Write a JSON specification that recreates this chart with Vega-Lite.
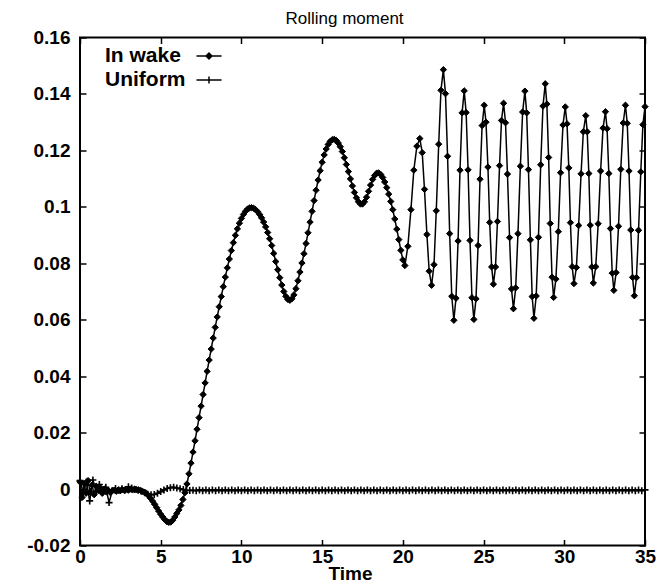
{
  "$schema": "https://vega.github.io/schema/vega-lite/v6.json",
  "width": 565,
  "height": 508,
  "autosize": {"type": "none"},
  "padding": {"left": 80, "top": 37.5, "right": 15, "bottom": 42.5},
  "background": "white",
  "config": {"view": {"stroke": "black", "strokeWidth": 2}, "font": "Liberation Sans"},
  "title": {"text": "Rolling moment", "font": "Liberation Sans", "fontSize": 17, "fontWeight": "normal", "color": "black", "anchor": "middle", "frame": "group", "offset": 1, "dx": -18},
  "data": {"values": [
    {"series":"In wake","time":0,"moment":0.0025},{"series":"In wake","time":0.125,"moment":-0.003},{"series":"In wake","time":0.25,"moment":0.002},{"series":"In wake","time":0.375,"moment":-0.0015},{"series":"In wake","time":0.5,"moment":0.003},{"series":"In wake","time":0.625,"moment":-0.001},{"series":"In wake","time":0.75,"moment":0.0015},{"series":"In wake","time":0.875,"moment":-0.002},{"series":"In wake","time":1,"moment":0.001},{"series":"In wake","time":1.125,"moment":-0.0005},{"series":"In wake","time":1.25,"moment":0.0005},{"series":"In wake","time":1.375,"moment":-0.0015},{"series":"In wake","time":1.5,"moment":0},{"series":"In wake","time":1.625,"moment":-0.001},{"series":"In wake","time":1.75,"moment":-0.0005},{"series":"In wake","time":1.875,"moment":-0.0012},
    {"series":"In wake","time":2,"moment":-0.0006},{"series":"In wake","time":2.125,"moment":-0.0004},{"series":"In wake","time":2.25,"moment":-0.0008},{"series":"In wake","time":2.375,"moment":-0.0003},{"series":"In wake","time":2.5,"moment":-0.0006},{"series":"In wake","time":2.625,"moment":-0.0002},{"series":"In wake","time":2.75,"moment":-0.0005},{"series":"In wake","time":2.875,"moment":-0.0001},{"series":"In wake","time":3,"moment":-0.0004},{"series":"In wake","time":3.125,"moment":0},{"series":"In wake","time":3.25,"moment":-0.0003},{"series":"In wake","time":3.375,"moment":0},{"series":"In wake","time":3.5,"moment":-0.0002},{"series":"In wake","time":3.625,"moment":-0.0003},{"series":"In wake","time":3.75,"moment":-0.0005},{"series":"In wake","time":3.875,"moment":-0.0008},
    {"series":"In wake","time":4,"moment":-0.0011},{"series":"In wake","time":4.125,"moment":-0.0016},{"series":"In wake","time":4.25,"moment":-0.0024},{"series":"In wake","time":4.375,"moment":-0.0033},{"series":"In wake","time":4.5,"moment":-0.0043},{"series":"In wake","time":4.625,"moment":-0.0054},{"series":"In wake","time":4.75,"moment":-0.0066},{"series":"In wake","time":4.875,"moment":-0.0078},{"series":"In wake","time":5,"moment":-0.0089},{"series":"In wake","time":5.125,"moment":-0.0099},{"series":"In wake","time":5.25,"moment":-0.0108},{"series":"In wake","time":5.375,"moment":-0.0115},{"series":"In wake","time":5.5,"moment":-0.0118},{"series":"In wake","time":5.625,"moment":-0.0117},{"series":"In wake","time":5.75,"moment":-0.011},{"series":"In wake","time":5.875,"moment":-0.0099},
    {"series":"In wake","time":6,"moment":-0.0086},{"series":"In wake","time":6.125,"moment":-0.0074},{"series":"In wake","time":6.25,"moment":-0.0058},{"series":"In wake","time":6.375,"moment":-0.0037},{"series":"In wake","time":6.5,"moment":-0.0013},{"series":"In wake","time":6.625,"moment":0.0018},{"series":"In wake","time":6.75,"moment":0.0054},{"series":"In wake","time":6.875,"moment":0.0092},{"series":"In wake","time":7,"moment":0.0131},{"series":"In wake","time":7.125,"moment":0.0171},{"series":"In wake","time":7.25,"moment":0.0212},{"series":"In wake","time":7.375,"moment":0.0253},{"series":"In wake","time":7.5,"moment":0.0294},{"series":"In wake","time":7.625,"moment":0.0335},{"series":"In wake","time":7.75,"moment":0.0376},{"series":"In wake","time":7.875,"moment":0.0417},
    {"series":"In wake","time":8,"moment":0.0457},{"series":"In wake","time":8.125,"moment":0.0496},{"series":"In wake","time":8.25,"moment":0.0535},{"series":"In wake","time":8.375,"moment":0.0573},{"series":"In wake","time":8.5,"moment":0.061},{"series":"In wake","time":8.625,"moment":0.0646},{"series":"In wake","time":8.75,"moment":0.0682},{"series":"In wake","time":8.875,"moment":0.0717},{"series":"In wake","time":9,"moment":0.0751},{"series":"In wake","time":9.125,"moment":0.0784},{"series":"In wake","time":9.25,"moment":0.0815},{"series":"In wake","time":9.375,"moment":0.0845},{"series":"In wake","time":9.5,"moment":0.0873},{"series":"In wake","time":9.625,"moment":0.0899},{"series":"In wake","time":9.75,"moment":0.0922},{"series":"In wake","time":9.875,"moment":0.0942},
    {"series":"In wake","time":10,"moment":0.0959},{"series":"In wake","time":10.125,"moment":0.0973},{"series":"In wake","time":10.25,"moment":0.0984},{"series":"In wake","time":10.375,"moment":0.0992},{"series":"In wake","time":10.5,"moment":0.0996},{"series":"In wake","time":10.625,"moment":0.0997},{"series":"In wake","time":10.75,"moment":0.0995},{"series":"In wake","time":10.875,"moment":0.099},{"series":"In wake","time":11,"moment":0.0983},{"series":"In wake","time":11.125,"moment":0.0973},{"series":"In wake","time":11.25,"moment":0.0961},{"series":"In wake","time":11.375,"moment":0.0946},{"series":"In wake","time":11.5,"moment":0.0929},{"series":"In wake","time":11.625,"moment":0.0909},{"series":"In wake","time":11.75,"moment":0.0887},{"series":"In wake","time":11.875,"moment":0.0863},
    {"series":"In wake","time":12,"moment":0.0835},{"series":"In wake","time":12.125,"moment":0.0806},{"series":"In wake","time":12.25,"moment":0.0777},{"series":"In wake","time":12.375,"moment":0.0749},{"series":"In wake","time":12.5,"moment":0.0723},{"series":"In wake","time":12.625,"moment":0.07},{"series":"In wake","time":12.75,"moment":0.0683},{"series":"In wake","time":12.875,"moment":0.0672},{"series":"In wake","time":13,"moment":0.0669},{"series":"In wake","time":13.125,"moment":0.0674},{"series":"In wake","time":13.25,"moment":0.0688},{"series":"In wake","time":13.375,"moment":0.071},{"series":"In wake","time":13.5,"moment":0.0738},{"series":"In wake","time":13.625,"moment":0.0769},{"series":"In wake","time":13.75,"moment":0.0801},{"series":"In wake","time":13.875,"moment":0.0834},
    {"series":"In wake","time":14,"moment":0.087},{"series":"In wake","time":14.125,"moment":0.0908},{"series":"In wake","time":14.25,"moment":0.0946},{"series":"In wake","time":14.375,"moment":0.0984},{"series":"In wake","time":14.5,"moment":0.1022},{"series":"In wake","time":14.625,"moment":0.1059},{"series":"In wake","time":14.75,"moment":0.1095},{"series":"In wake","time":14.875,"moment":0.1128},{"series":"In wake","time":15,"moment":0.1158},{"series":"In wake","time":15.125,"moment":0.1184},{"series":"In wake","time":15.25,"moment":0.1205},{"series":"In wake","time":15.375,"moment":0.1221},{"series":"In wake","time":15.5,"moment":0.1232},{"series":"In wake","time":15.625,"moment":0.1238},{"series":"In wake","time":15.75,"moment":0.1239},{"series":"In wake","time":15.875,"moment":0.1235},
    {"series":"In wake","time":16,"moment":0.1226},{"series":"In wake","time":16.125,"moment":0.1213},{"series":"In wake","time":16.25,"moment":0.1196},{"series":"In wake","time":16.375,"moment":0.1174},{"series":"In wake","time":16.5,"moment":0.115},{"series":"In wake","time":16.625,"moment":0.1125},{"series":"In wake","time":16.75,"moment":0.1099},{"series":"In wake","time":16.875,"moment":0.1074},{"series":"In wake","time":17,"moment":0.1051},{"series":"In wake","time":17.125,"moment":0.1032},{"series":"In wake","time":17.25,"moment":0.1018},{"series":"In wake","time":17.375,"moment":0.101},{"series":"In wake","time":17.5,"moment":0.101},{"series":"In wake","time":17.625,"moment":0.1018},{"series":"In wake","time":17.75,"moment":0.1034},{"series":"In wake","time":17.875,"moment":0.1055},
    {"series":"In wake","time":18,"moment":0.1077},{"series":"In wake","time":18.125,"moment":0.1097},{"series":"In wake","time":18.25,"moment":0.1111},{"series":"In wake","time":18.375,"moment":0.1119},{"series":"In wake","time":18.5,"moment":0.112},{"series":"In wake","time":18.625,"moment":0.1115},{"series":"In wake","time":18.75,"moment":0.1104},{"series":"In wake","time":18.875,"moment":0.1088},{"series":"In wake","time":19,"moment":0.1068},{"series":"In wake","time":19.125,"moment":0.1045},{"series":"In wake","time":19.25,"moment":0.1019},{"series":"In wake","time":19.375,"moment":0.099},{"series":"In wake","time":19.5,"moment":0.0957},{"series":"In wake","time":19.625,"moment":0.0921},{"series":"In wake","time":19.75,"moment":0.0884},{"series":"In wake","time":19.875,"moment":0.0846},
    {"series":"In wake","time":20,"moment":0.0812},{"series":"In wake","time":20.125,"moment":0.0792},{"series":"In wake","time":20.31,"moment":0.086},{"series":"In wake","time":20.5,"moment":0.099},{"series":"In wake","time":20.68,"moment":0.113},{"series":"In wake","time":20.87,"moment":0.1215},{"series":"In wake","time":21.05,"moment":0.1242},{"series":"In wake","time":21.2,"moment":0.1192},{"series":"In wake","time":21.34,"moment":0.1062},{"series":"In wake","time":21.49,"moment":0.0902},{"series":"In wake","time":21.63,"moment":0.0772},{"series":"In wake","time":21.78,"moment":0.0722},
    {"series":"In wake","time":21.93,"moment":0.0795},{"series":"In wake","time":22.07,"moment":0.0986},{"series":"In wake","time":22.22,"moment":0.1222},{"series":"In wake","time":22.36,"moment":0.1413},{"series":"In wake","time":22.51,"moment":0.1486},{"series":"In wake","time":22.64,"moment":0.1401},{"series":"In wake","time":22.77,"moment":0.1179},{"series":"In wake","time":22.9,"moment":0.0905},{"series":"In wake","time":23.03,"moment":0.0683},{"series":"In wake","time":23.16,"moment":0.0598},
    {"series":"In wake","time":23.29,"moment":0.0676},{"series":"In wake","time":23.42,"moment":0.0879},{"series":"In wake","time":23.54,"moment":0.113},{"series":"In wake","time":23.67,"moment":0.1333},{"series":"In wake","time":23.8,"moment":0.1411},{"series":"In wake","time":23.92,"moment":0.1334},{"series":"In wake","time":24.04,"moment":0.1131},{"series":"In wake","time":24.16,"moment":0.0881},{"series":"In wake","time":24.28,"moment":0.0678},{"series":"In wake","time":24.4,"moment":0.0601},
    {"series":"In wake","time":24.53,"moment":0.0674},{"series":"In wake","time":24.66,"moment":0.0863},{"series":"In wake","time":24.78,"moment":0.1098},{"series":"In wake","time":24.91,"moment":0.1288},{"series":"In wake","time":25.04,"moment":0.136},{"series":"In wake","time":25.15,"moment":0.13},{"series":"In wake","time":25.27,"moment":0.1141},{"series":"In wake","time":25.38,"moment":0.0945},{"series":"In wake","time":25.5,"moment":0.0787},{"series":"In wake","time":25.61,"moment":0.0726},
    {"series":"In wake","time":25.74,"moment":0.0787},{"series":"In wake","time":25.86,"moment":0.0948},{"series":"In wake","time":25.99,"moment":0.1146},{"series":"In wake","time":26.11,"moment":0.1306},{"series":"In wake","time":26.24,"moment":0.1367},{"series":"In wake","time":26.36,"moment":0.1298},{"series":"In wake","time":26.48,"moment":0.1116},{"series":"In wake","time":26.61,"moment":0.0891},{"series":"In wake","time":26.73,"moment":0.0709},{"series":"In wake","time":26.85,"moment":0.0639},
    {"series":"In wake","time":26.99,"moment":0.0713},{"series":"In wake","time":27.13,"moment":0.0905},{"series":"In wake","time":27.28,"moment":0.1144},{"series":"In wake","time":27.42,"moment":0.1336},{"series":"In wake","time":27.56,"moment":0.141},{"series":"In wake","time":27.67,"moment":0.1333},{"series":"In wake","time":27.78,"moment":0.1132},{"series":"In wake","time":27.9,"moment":0.0883},{"series":"In wake","time":28.01,"moment":0.0682},{"series":"In wake","time":28.12,"moment":0.0605},
    {"series":"In wake","time":28.26,"moment":0.0684},{"series":"In wake","time":28.4,"moment":0.0892},{"series":"In wake","time":28.54,"moment":0.1149},{"series":"In wake","time":28.68,"moment":0.1357},{"series":"In wake","time":28.82,"moment":0.1436},{"series":"In wake","time":28.92,"moment":0.1364},{"series":"In wake","time":29.03,"moment":0.1175},{"series":"In wake","time":29.13,"moment":0.0941},{"series":"In wake","time":29.24,"moment":0.0751},{"series":"In wake","time":29.34,"moment":0.0679},
    {"series":"In wake","time":29.48,"moment":0.0744},{"series":"In wake","time":29.63,"moment":0.0912},{"series":"In wake","time":29.77,"moment":0.1121},{"series":"In wake","time":29.92,"moment":0.129},{"series":"In wake","time":30.06,"moment":0.1354},{"series":"In wake","time":30.17,"moment":0.1294},{"series":"In wake","time":30.28,"moment":0.1138},{"series":"In wake","time":30.38,"moment":0.0944},{"series":"In wake","time":30.49,"moment":0.0788},{"series":"In wake","time":30.6,"moment":0.0728},
    {"series":"In wake","time":30.75,"moment":0.0785},{"series":"In wake","time":30.89,"moment":0.0934},{"series":"In wake","time":31.04,"moment":0.1117},{"series":"In wake","time":31.18,"moment":0.1266},{"series":"In wake","time":31.33,"moment":0.1323},{"series":"In wake","time":31.42,"moment":0.1266},{"series":"In wake","time":31.52,"moment":0.1118},{"series":"In wake","time":31.61,"moment":0.0935},{"series":"In wake","time":31.71,"moment":0.0787},{"series":"In wake","time":31.8,"moment":0.073},
    {"series":"In wake","time":31.95,"moment":0.0788},{"series":"In wake","time":32.1,"moment":0.094},{"series":"In wake","time":32.25,"moment":0.1127},{"series":"In wake","time":32.4,"moment":0.1279},{"series":"In wake","time":32.55,"moment":0.1337},{"series":"In wake","time":32.65,"moment":0.1277},{"series":"In wake","time":32.76,"moment":0.1118},{"series":"In wake","time":32.86,"moment":0.0923},{"series":"In wake","time":32.97,"moment":0.0765},{"series":"In wake","time":33.07,"moment":0.0704},
    {"series":"In wake","time":33.21,"moment":0.0767},{"series":"In wake","time":33.36,"moment":0.0931},{"series":"In wake","time":33.5,"moment":0.1133},{"series":"In wake","time":33.65,"moment":0.1297},{"series":"In wake","time":33.79,"moment":0.136},{"series":"In wake","time":33.9,"moment":0.1296},{"series":"In wake","time":34.01,"moment":0.1127},{"series":"In wake","time":34.12,"moment":0.0918},{"series":"In wake","time":34.23,"moment":0.075},{"series":"In wake","time":34.34,"moment":0.0685},
    {"series":"In wake","time":34.47,"moment":0.0749},{"series":"In wake","time":34.6,"moment":0.0917},{"series":"In wake","time":34.74,"moment":0.1124},{"series":"In wake","time":34.87,"moment":0.1291},{"series":"In wake","time":35,"moment":0.1355},
    {"series":"Uniform","time":0,"moment":0.003},{"series":"Uniform","time":0.2,"moment":-0.0012},{"series":"Uniform","time":0.4,"moment":0.0025},{"series":"Uniform","time":0.6,"moment":-0.0042},{"series":"Uniform","time":0.8,"moment":0.0032},{"series":"Uniform","time":1,"moment":-0.0008},{"series":"Uniform","time":1.2,"moment":0.0016},{"series":"Uniform","time":1.4,"moment":-0.0012},{"series":"Uniform","time":1.6,"moment":0.0006},{"series":"Uniform","time":1.8,"moment":-0.0048},
    {"series":"Uniform","time":2,"moment":-0.0006},{"series":"Uniform","time":2.2,"moment":0.0002},{"series":"Uniform","time":2.4,"moment":-0.0004},{"series":"Uniform","time":2.6,"moment":0.0001},{"series":"Uniform","time":2.8,"moment":-0.0003},{"series":"Uniform","time":3,"moment":0.0008},{"series":"Uniform","time":3.2,"moment":0.0004},{"series":"Uniform","time":3.4,"moment":-0.0002},{"series":"Uniform","time":3.6,"moment":-0.0004},{"series":"Uniform","time":3.8,"moment":-0.0008},
    {"series":"Uniform","time":4,"moment":-0.0013},{"series":"Uniform","time":4.2,"moment":-0.0018},{"series":"Uniform","time":4.4,"moment":-0.002},{"series":"Uniform","time":4.6,"moment":-0.0019},{"series":"Uniform","time":4.8,"moment":-0.0015},{"series":"Uniform","time":5,"moment":-0.0009},{"series":"Uniform","time":5.2,"moment":-0.0003},{"series":"Uniform","time":5.4,"moment":0.0002},{"series":"Uniform","time":5.6,"moment":0.0005},{"series":"Uniform","time":5.8,"moment":0.0006},
    {"series":"Uniform","time":6,"moment":0.0004},{"series":"Uniform","time":6.2,"moment":0.0001},{"series":"Uniform","time":6.4,"moment":-0.0002},{"series":"Uniform","time":6.6,"moment":-0.0004},{"series":"Uniform","time":6.8,"moment":-0.0005},{"series":"Uniform","time":7,"moment":-0.0004},{"series":"Uniform","time":7.2,"moment":-0.0006},{"series":"Uniform","time":7.4,"moment":-0.0003},{"series":"Uniform","time":7.6,"moment":-0.0006},{"series":"Uniform","time":7.8,"moment":-0.0003},
    {"series":"Uniform","time":8,"moment":-0.0006},{"series":"Uniform","time":8.2,"moment":-0.0003},{"series":"Uniform","time":8.4,"moment":-0.0006},{"series":"Uniform","time":8.6,"moment":-0.0003},{"series":"Uniform","time":8.8,"moment":-0.0006},{"series":"Uniform","time":9,"moment":-0.0003},{"series":"Uniform","time":9.2,"moment":-0.0006},{"series":"Uniform","time":9.4,"moment":-0.0003},{"series":"Uniform","time":9.6,"moment":-0.0006},{"series":"Uniform","time":9.8,"moment":-0.0003},
    {"series":"Uniform","time":10,"moment":-0.0006},{"series":"Uniform","time":10.2,"moment":-0.0003},{"series":"Uniform","time":10.4,"moment":-0.0006},{"series":"Uniform","time":10.6,"moment":-0.0003},{"series":"Uniform","time":10.8,"moment":-0.0006},{"series":"Uniform","time":11,"moment":-0.0003},{"series":"Uniform","time":11.2,"moment":-0.0006},{"series":"Uniform","time":11.4,"moment":-0.0003},{"series":"Uniform","time":11.6,"moment":-0.0006},{"series":"Uniform","time":11.8,"moment":-0.0003},
    {"series":"Uniform","time":12,"moment":-0.0006},{"series":"Uniform","time":12.2,"moment":-0.0003},{"series":"Uniform","time":12.4,"moment":-0.0006},{"series":"Uniform","time":12.6,"moment":-0.0003},{"series":"Uniform","time":12.8,"moment":-0.0006},{"series":"Uniform","time":13,"moment":-0.0003},{"series":"Uniform","time":13.2,"moment":-0.0006},{"series":"Uniform","time":13.4,"moment":-0.0003},{"series":"Uniform","time":13.6,"moment":-0.0006},{"series":"Uniform","time":13.8,"moment":-0.0003},
    {"series":"Uniform","time":14,"moment":-0.0006},{"series":"Uniform","time":14.2,"moment":-0.0003},{"series":"Uniform","time":14.4,"moment":-0.0006},{"series":"Uniform","time":14.6,"moment":-0.0003},{"series":"Uniform","time":14.8,"moment":-0.0006},{"series":"Uniform","time":15,"moment":-0.0003},{"series":"Uniform","time":15.2,"moment":-0.0006},{"series":"Uniform","time":15.4,"moment":-0.0003},{"series":"Uniform","time":15.6,"moment":-0.0006},{"series":"Uniform","time":15.8,"moment":-0.0003},
    {"series":"Uniform","time":16,"moment":-0.0006},{"series":"Uniform","time":16.2,"moment":-0.0003},{"series":"Uniform","time":16.4,"moment":-0.0006},{"series":"Uniform","time":16.6,"moment":-0.0003},{"series":"Uniform","time":16.8,"moment":-0.0006},{"series":"Uniform","time":17,"moment":-0.0003},{"series":"Uniform","time":17.2,"moment":-0.0006},{"series":"Uniform","time":17.4,"moment":-0.0003},{"series":"Uniform","time":17.6,"moment":-0.0006},{"series":"Uniform","time":17.8,"moment":-0.0003},
    {"series":"Uniform","time":18,"moment":-0.0006},{"series":"Uniform","time":18.2,"moment":-0.0003},{"series":"Uniform","time":18.4,"moment":-0.0006},{"series":"Uniform","time":18.6,"moment":-0.0003},{"series":"Uniform","time":18.8,"moment":-0.0006},{"series":"Uniform","time":19,"moment":-0.0003},{"series":"Uniform","time":19.2,"moment":-0.0006},{"series":"Uniform","time":19.4,"moment":-0.0003},{"series":"Uniform","time":19.6,"moment":-0.0006},{"series":"Uniform","time":19.8,"moment":-0.0003},
    {"series":"Uniform","time":20,"moment":-0.0006},{"series":"Uniform","time":20.2,"moment":-0.0003},{"series":"Uniform","time":20.4,"moment":-0.0006},{"series":"Uniform","time":20.6,"moment":-0.0003},{"series":"Uniform","time":20.8,"moment":-0.0006},{"series":"Uniform","time":21,"moment":-0.0003},{"series":"Uniform","time":21.2,"moment":-0.0006},{"series":"Uniform","time":21.4,"moment":-0.0003},{"series":"Uniform","time":21.6,"moment":-0.0006},{"series":"Uniform","time":21.8,"moment":-0.0003},
    {"series":"Uniform","time":22,"moment":-0.0006},{"series":"Uniform","time":22.2,"moment":-0.0003},{"series":"Uniform","time":22.4,"moment":-0.0006},{"series":"Uniform","time":22.6,"moment":-0.0003},{"series":"Uniform","time":22.8,"moment":-0.0006},{"series":"Uniform","time":23,"moment":-0.0003},{"series":"Uniform","time":23.2,"moment":-0.0006},{"series":"Uniform","time":23.4,"moment":-0.0003},{"series":"Uniform","time":23.6,"moment":-0.0006},{"series":"Uniform","time":23.8,"moment":-0.0003},
    {"series":"Uniform","time":24,"moment":-0.0006},{"series":"Uniform","time":24.2,"moment":-0.0003},{"series":"Uniform","time":24.4,"moment":-0.0006},{"series":"Uniform","time":24.6,"moment":-0.0003},{"series":"Uniform","time":24.8,"moment":-0.0006},{"series":"Uniform","time":25,"moment":-0.0003},{"series":"Uniform","time":25.2,"moment":-0.0006},{"series":"Uniform","time":25.4,"moment":-0.0003},{"series":"Uniform","time":25.6,"moment":-0.0006},{"series":"Uniform","time":25.8,"moment":-0.0003},
    {"series":"Uniform","time":26,"moment":-0.0006},{"series":"Uniform","time":26.2,"moment":-0.0003},{"series":"Uniform","time":26.4,"moment":-0.0006},{"series":"Uniform","time":26.6,"moment":-0.0003},{"series":"Uniform","time":26.8,"moment":-0.0006},{"series":"Uniform","time":27,"moment":-0.0003},{"series":"Uniform","time":27.2,"moment":-0.0006},{"series":"Uniform","time":27.4,"moment":-0.0003},{"series":"Uniform","time":27.6,"moment":-0.0006},{"series":"Uniform","time":27.8,"moment":-0.0003},
    {"series":"Uniform","time":28,"moment":-0.0006},{"series":"Uniform","time":28.2,"moment":-0.0003},{"series":"Uniform","time":28.4,"moment":-0.0006},{"series":"Uniform","time":28.6,"moment":-0.0003},{"series":"Uniform","time":28.8,"moment":-0.0006},{"series":"Uniform","time":29,"moment":-0.0003},{"series":"Uniform","time":29.2,"moment":-0.0006},{"series":"Uniform","time":29.4,"moment":-0.0003},{"series":"Uniform","time":29.6,"moment":-0.0006},{"series":"Uniform","time":29.8,"moment":-0.0003},
    {"series":"Uniform","time":30,"moment":-0.0006},{"series":"Uniform","time":30.2,"moment":-0.0003},{"series":"Uniform","time":30.4,"moment":-0.0006},{"series":"Uniform","time":30.6,"moment":-0.0003},{"series":"Uniform","time":30.8,"moment":-0.0006},{"series":"Uniform","time":31,"moment":-0.0003},{"series":"Uniform","time":31.2,"moment":-0.0006},{"series":"Uniform","time":31.4,"moment":-0.0003},{"series":"Uniform","time":31.6,"moment":-0.0006},{"series":"Uniform","time":31.8,"moment":-0.0003},
    {"series":"Uniform","time":32,"moment":-0.0006},{"series":"Uniform","time":32.2,"moment":-0.0003},{"series":"Uniform","time":32.4,"moment":-0.0006},{"series":"Uniform","time":32.6,"moment":-0.0003},{"series":"Uniform","time":32.8,"moment":-0.0006},{"series":"Uniform","time":33,"moment":-0.0003},{"series":"Uniform","time":33.2,"moment":-0.0006},{"series":"Uniform","time":33.4,"moment":-0.0003},{"series":"Uniform","time":33.6,"moment":-0.0006},{"series":"Uniform","time":33.8,"moment":-0.0003},
    {"series":"Uniform","time":34,"moment":-0.0006},{"series":"Uniform","time":34.2,"moment":-0.0003},{"series":"Uniform","time":34.4,"moment":-0.0006},{"series":"Uniform","time":34.6,"moment":-0.0003},{"series":"Uniform","time":34.8,"moment":-0.0006},{"series":"Uniform","time":35,"moment":-0.0003}
  ]},
  "encoding": {
    "x": {"field": "time", "type": "quantitative", "scale": {"domain": [0, 35], "nice": false, "zero": false}},
    "y": {"field": "moment", "type": "quantitative", "scale": {"domain": [-0.02, 0.16], "nice": false, "zero": false}}
  },
  "layer": [
    {
      "transform": [{"filter": "datum.series === 'Uniform'"}],
      "mark": {"type": "line", "color": "black", "strokeWidth": 1.5},
      "encoding": {
        "x": {"field": "time", "type": "quantitative", "axis": {"orient": "bottom", "values": [0, 5, 10, 15, 20, 25, 30, 35], "domain": false, "grid": false, "ticks": true, "tickSize": -6, "tickWidth": 1.5, "tickColor": "black", "labelPadding": 8, "labelFont": "Liberation Sans", "labelFontSize": 19, "labelFontWeight": "bold", "labelColor": "black", "labelFlush": false, "title": "Time", "titleFont": "Liberation Sans", "titleFontSize": 19, "titleFontWeight": "bold", "titleColor": "black", "titleX": 270, "titleY": 28, "titleBaseline": "middle", "titleAlign": "center"}},
        "y": {"field": "moment", "type": "quantitative", "axis": {"orient": "left", "values": [-0.02, 0, 0.02, 0.04, 0.06, 0.08, 0.1, 0.12, 0.14, 0.16], "labelExpr": "replace(format(datum.value, '~r'), '\u2212', '-')", "domain": false, "grid": false, "ticks": true, "tickSize": -6, "tickWidth": 1.5, "tickColor": "black", "labelPadding": 16, "labelFont": "Liberation Sans", "labelFontSize": 19, "labelFontWeight": "bold", "labelColor": "black", "labelFlush": false, "title": null}}
      }
    },
    {
      "transform": [{"filter": "datum.series === 'Uniform'"}],
      "mark": {"type": "point", "shape": "M-1,0H1M0,-1V1", "size": 49, "stroke": "black", "strokeWidth": 1.6, "filled": false, "opacity": 1},
      "encoding": {"x": {"field": "time", "type": "quantitative", "axis": null}, "y": {"field": "moment", "type": "quantitative", "axis": null}}
    },
    {
      "transform": [{"filter": "datum.series === 'In wake'"}],
      "mark": {"type": "line", "color": "black", "strokeWidth": 1.5},
      "encoding": {"x": {"field": "time", "type": "quantitative", "axis": null}, "y": {"field": "moment", "type": "quantitative", "axis": null}}
    },
    {
      "transform": [{"filter": "datum.series === 'In wake'"}],
      "mark": {"type": "point", "shape": "diamond", "size": 40, "filled": true, "fill": "black", "stroke": "black", "strokeWidth": 1, "opacity": 1},
      "encoding": {"x": {"field": "time", "type": "quantitative", "axis": null}, "y": {"field": "moment", "type": "quantitative", "axis": null}}
    },
    {
      "transform": [{"filter": "datum.time > 100"}],
      "mark": {"type": "point", "filled": true, "color": "black", "size": 625},
      "encoding": {
        "x": {"field": "time", "type": "quantitative", "axis": {"orient": "top", "values": [0, 5, 10, 15, 20, 25, 30, 35], "domain": false, "grid": false, "labels": false, "ticks": true, "tickSize": -6, "tickWidth": 1.5, "tickColor": "black", "title": null}},
        "y": {"field": "moment", "type": "quantitative", "axis": {"orient": "right", "values": [-0.02, 0, 0.02, 0.04, 0.06, 0.08, 0.1, 0.12, 0.14, 0.16], "domain": false, "grid": false, "labels": false, "ticks": true, "tickSize": -6, "tickWidth": 1.5, "tickColor": "black", "title": null}},
        "shape": {"field": "series", "type": "nominal", "scale": {"domain": ["In wake", "Uniform"], "range": ["M-1,-0.06H1V0.06H-1ZM-0.32,0L0,-0.32L0.32,0L0,0.32Z", "M-1,-0.06H1V0.06H-1ZM-0.06,-0.28H0.06V0.28H-0.06ZM-0.28,-0.06H0.28V0.06H-0.28Z"]}, "legend": {"orient": "none", "legendX": 27, "legendY": 5, "title": null, "padding": 0, "labelFont": "Liberation Sans", "labelFontSize": 21, "labelFontWeight": "bold", "labelColor": "black", "labelLimit": 0, "symbolSize": 625, "symbolOffset": 88.5, "labelOffset": -117.5, "rowPadding": -3, "symbolOpacity": 1, "symbolFillColor": "black", "encode": {"symbols": {"update": {"fill": {"value": "black"}, "fillOpacity": {"value": 1}, "opacity": {"value": 1}, "size": {"value": 625}}}}}}
      }
    }
  ],
  "resolve": {"axis": {"x": "independent", "y": "independent"}}
}
